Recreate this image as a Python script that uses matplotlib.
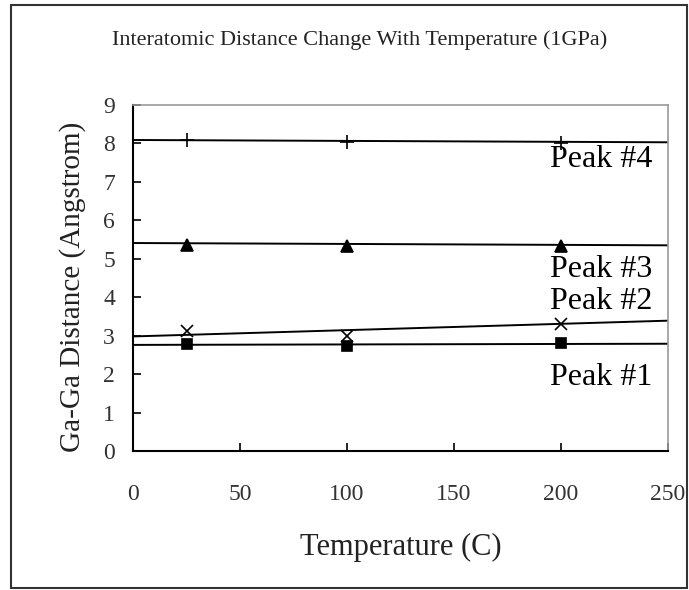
import matplotlib
matplotlib.use("Agg")
import matplotlib.pyplot as plt
from matplotlib.patches import Rectangle

temps = [25, 100, 200]
peak1 = [2.78, 2.73, 2.80]
peak2 = [3.11, 2.99, 3.30]
peak3 = [5.36, 5.32, 5.32]
peak4 = [8.09, 8.05, 8.02]

trend_x = [0, 250]
trend1 = [2.76, 2.79]
trend2 = [2.98, 3.39]
trend3 = [5.41, 5.35]
trend4 = [8.09, 8.03]

labels = ["Peak #1", "Peak #2", "Peak #3", "Peak #4"]
label_x = [195, 195, 195, 195]
label_y = [1.90, 3.88, 4.71, 7.58]

xticks = [0, 50, 100, 150, 200, 250]
yticks = [0, 1, 2, 3, 4, 5, 6, 7, 8, 9]

serif = ["Liberation Serif", "DejaVu Serif"]

fig = plt.figure(figsize=(6.89, 5.90), dpi=100)
fig.patches.append(Rectangle((11/689, 2/590), 676/689, 583/590, transform=fig.transFigure,
                             fill=False, edgecolor="#333333", linewidth=1.5))
ax = fig.add_axes([133/689, 139/590, 535/689, 346/590])

series = [(peak1, trend1, "s", 7), (peak2, trend2, "x", 8), (peak3, trend3, "^", 8), (peak4, trend4, "+", 10)]
for vals, tr, m, ms in series:
    ax.plot(trend_x, tr, color="black", linewidth=1.4, zorder=2)
    ax.plot(temps, vals, linestyle="none", marker=m, markersize=ms, color="black",
            markeredgewidth=1.2, zorder=3)

for lab, lx, ly in zip(labels, label_x, label_y):
    ax.text(lx, ly, lab, fontsize=23, family=serif, va="center", ha="left")

ax.set_xlim(0, 250)
ax.set_ylim(0, 9)
ax.set_xticks(xticks)
ax.set_yticks(yticks)
ax.tick_params(direction="in", length=6, width=1.2, labelsize=17)
ax.tick_params(axis="y", pad=13)
ax.tick_params(axis="x", pad=24)
for lab in ax.get_xticklabels() + ax.get_yticklabels():
    lab.set_family(serif)
    lab.set_color("#333333")

ax.spines["left"].set_linewidth(1.5)
ax.spines["bottom"].set_linewidth(1.5)
ax.spines["top"].set_color("#999999")
ax.spines["right"].set_color("#999999")
ax.spines["top"].set_linewidth(1.2)
ax.spines["right"].set_linewidth(1.2)

ax.set_xlabel("Temperature (C)", fontsize=22, family=serif, labelpad=20, color="#222222")
ax.set_ylabel("Ga-Ga Distance (Angstrom)", fontsize=21, family=serif, labelpad=12, color="#222222")
ax.yaxis.label.set_y(0.475)
fig.text(360/689, 1 - 40/590, "Interatomic Distance Change With Temperature (1GPa)",
         fontsize=16, family=serif, ha="center", va="center", color="#222222")

fig.savefig("out.png", dpi=100)
